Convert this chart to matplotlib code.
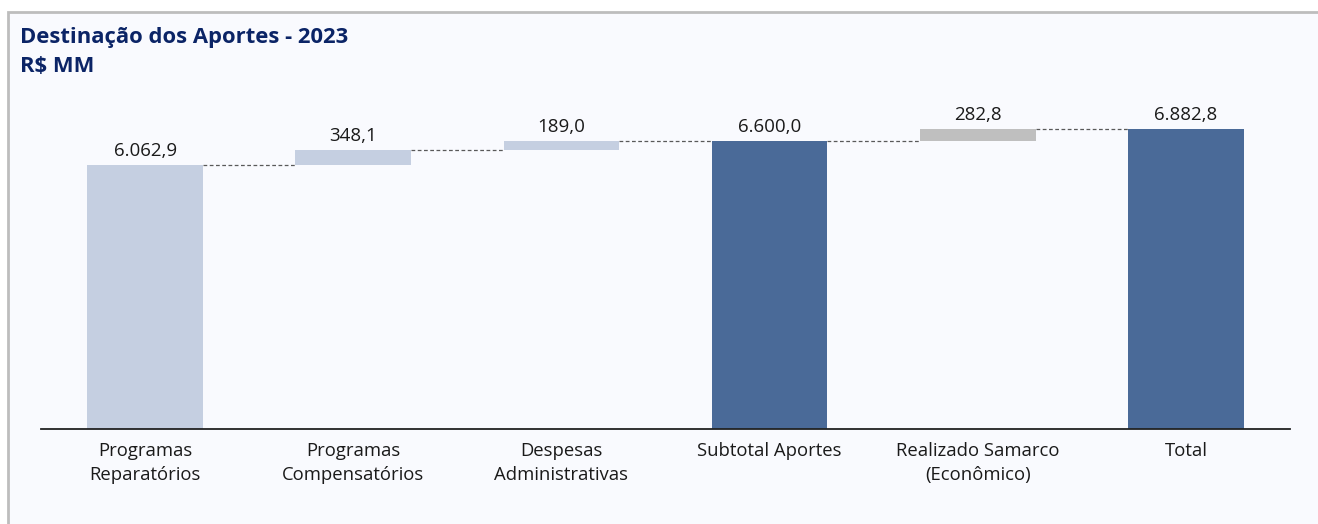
import matplotlib
matplotlib.use("Agg")
import matplotlib.pyplot as plt
from matplotlib.patches import Rectangle

# dados (R$ MM)
categorias = ["Programas\nReparatórios", "Programas\nCompensatórios", "Despesas\nAdministrativas",
              "Subtotal Aportes", "Realizado Samarco\n(Econômico)", "Total"]
valores = [6062.9, 348.1, 189.0, 6600.0, 282.8, 6882.8]
rotulos = ["6.062,9", "348,1", "189,0", "6.600,0", "282,8", "6.882,8"]
eh_total = [False, False, False, True, False, True]
cores = ["#C5CFE1", "#C5CFE1", "#C5CFE1", "#4A6A98", "#BFBFBF", "#4A6A98"]

plt.rcParams['font.family'] = ['Open Sans', 'DejaVu Sans']

W, H = 1318, 524
fig = plt.figure(figsize=(W / 100, H / 100), dpi=100)
fig.patch.set_facecolor("white")

# moldura
fig.patches.append(Rectangle((8 / W, -0.1), 1.2, 1 - 12 / H + 0.1, transform=fig.transFigure,
                             facecolor="#F9FAFE", edgecolor="#BDBDBD", linewidth=2, zorder=-5))

ax = fig.add_axes([41 / W, 1 - 429 / H, (1290 - 41) / W, (429 - 100) / H])
ax.set_facecolor("none")

# bases do waterfall
bases = []
acum = 0
for v, t in zip(valores, eh_total):
    if t:
        bases.append(0)
        acum = v
    else:
        bases.append(acum)
        acum += v

x = list(range(len(valores)))
largura = 0.555
ax.bar(x, valores, bottom=bases, width=largura, color=cores, zorder=2)

# linhas tracejadas de ligação
for i in range(len(valores) - 1):
    nivel = bases[i] + valores[i]
    ax.plot([i + largura / 2, i + 1 - largura / 2], [nivel, nivel], ls=(0, (3, 2)),
            color="#595959", lw=0.9, zorder=1)

for i in range(len(valores)):
    ax.annotate(rotulos[i], (i, bases[i] + valores[i]), xytext=(0, 3.5),
                textcoords="offset points", ha="center", va="bottom",
                fontsize=13.5, color="#1A1A1A")

ax.set_xlim(-0.5, 5.5)
ax.set_ylim(0, 329 / (300 / 6882.8))
ax.set_xticks(x)
ax.set_xticklabels(categorias, fontsize=13.3, color="#1A1A1A", linespacing=1.45)
ax.tick_params(axis="x", length=0, pad=9)
ax.set_yticks([])
for s in ["top", "right", "left"]:
    ax.spines[s].set_visible(False)
ax.spines["bottom"].set_color("#222222")
ax.spines["bottom"].set_linewidth(1.3)

fig.text(20 / W, 1 - 37 / H, "Destinação dos Aportes - 2023", fontsize=15.8,
         fontweight="bold", color="#0B2466", ha="left", va="center")
fig.text(20 / W, 1 - 67 / H, "R$ MM", fontsize=15.8,
         fontweight="bold", color="#0B2466", ha="left", va="center")

fig.savefig("out.png", dpi=100, facecolor=fig.get_facecolor())
